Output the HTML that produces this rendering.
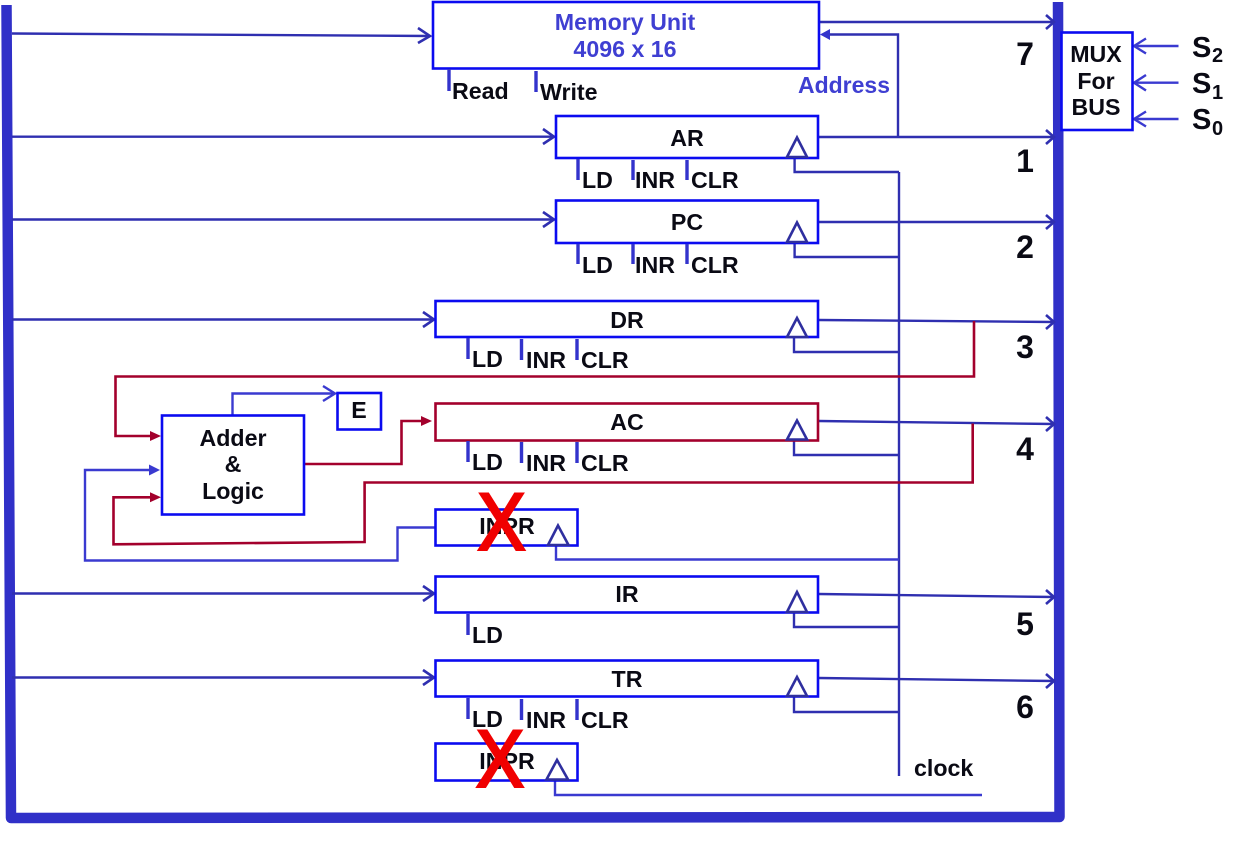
<!DOCTYPE html>
<html><head><meta charset="utf-8"><style>
html,body{margin:0;padding:0;background:#fff;width:1238px;height:854px;overflow:hidden}
svg{display:block}
text{font-family:"Liberation Sans",sans-serif;font-weight:bold;fill:#0a0a14}
.box{fill:#fff;stroke:#0b0bf0;stroke-width:2.6}
.l{fill:none;stroke:#2f2fb0;stroke-width:2.4}
.b{fill:none;stroke:#3a3ad0;stroke-width:2.4}
.r{fill:none;stroke:#a3002c;stroke-width:2.6}
.h{fill:none;stroke:#2f2fb0;stroke-width:2.6}
.t{fill:none;stroke:#3333cc;stroke-width:3.4}
.tri{fill:#fff;stroke:#2f2f9f;stroke-width:2.6}
.s{font-size:23.2px}
.c{text-anchor:middle}
.n{font-size:32px;text-anchor:middle}
.u{fill:#3f3fd2}
.x{font-weight:normal;fill:#f00000;stroke:#f00000;stroke-width:3;text-anchor:middle;font-size:81px}
</style></head><body>
<svg width="1238" height="854" viewBox="0 0 1238 854" xmlns="http://www.w3.org/2000/svg">
<!-- Bus -->
<path d="M6.5,5 L11,818 L1059.5,817 L1058,2" fill="none" stroke="#3030c8" stroke-width="10.5" stroke-linejoin="round"/>

<!-- clock and connectors -->
<path class="l" d="M899,172V776"/>
<path class="l" d="M794.6,158V172H899M794.6,243V257H899M794,337V352H899M794,440V455H899M794,612V627H899M794,697V712H899"/>
<path class="b" d="M556,546V559.5H899M555,780V795H982"/>

<!-- bus to registers -->
<path class="l" d="M12,33.5L430,36M12,136.7H554M12,219.5H554M12,319.5H434M12,593.5H434M12,677.5H434"/>
<path class="h" d="M418,28L430,36L418,43M543,129L554,136.7L543,144M543,212L554,219.5L543,227M423,312L434,319.5L423,327M423,586L434,593.5L423,601M423,670L434,677.5L423,685"/>

<!-- registers to bus -->
<path class="l" d="M819,22H1054M818,137H1054M818,222H1054M819,320L1054,322M819,421L1054,424M819,594L1054,597M819,678L1054,681"/>
<path class="h" d="M1046,15L1054,22L1046,29M1046,130L1054,137L1046,144M1046,215L1054,222L1046,229M1046,315L1054,322L1046,329M1046,417L1054,424L1046,431M1046,590L1054,597L1046,604M1046,674L1054,681L1046,688"/>

<!-- Address -->
<path class="l" d="M898,137V34.5H826"/>
<path d="M820,34.5L830,29V40Z" fill="#3333cc"/>

<!-- MUX inputs -->
<path class="b" d="M1178.5,46H1134M1178.5,82.7H1134M1178.5,119H1134"/>
<path class="b" d="M1146,38.5L1134,46L1146,53.5M1146,75L1134,82.7L1146,90.5M1146,111.5L1134,119L1146,126.5"/>

<!-- Blue adder connectors -->
<path class="b" d="M232.5,415V393.5H335"/>
<path class="b" d="M323,386L335,393.5L323,401"/>
<path class="b" d="M435,527.5H397.5V560.5H85V470H155"/>
<path d="M160,470L149,464.5V475.5Z" fill="#3a3ad0"/>

<!-- Red connectors -->
<path class="r" d="M974,321V376.5H115.5V436H155"/>
<path d="M161,436L150,431V441Z" fill="#a3002c"/>
<path class="r" d="M972.7,423.5V482.5H364.6V542L113.5,544.3V497.3H155"/>
<path d="M161,497.3L150,492.3V502.3Z" fill="#a3002c"/>
<path class="r" d="M302,464H401.5V421H425"/>
<path d="M432,421L421,416V426Z" fill="#a3002c"/>

<!-- Boxes -->
<rect class="box" x="433" y="2" width="386" height="66.5"/>
<rect class="box" x="556" y="116" width="262" height="42"/>
<rect class="box" x="556" y="200.5" width="262" height="42.5"/>
<rect class="box" x="435.5" y="301" width="382.5" height="36"/>
<rect x="435.5" y="403.5" width="382.5" height="37" fill="#fff" stroke="#a3002c" stroke-width="2.6"/>
<rect class="box" x="435.5" y="509.5" width="142" height="36"/>
<rect class="box" x="435.5" y="576.5" width="382.5" height="36"/>
<rect class="box" x="435.5" y="660.5" width="382.5" height="36"/>
<rect class="box" x="435.5" y="743.5" width="142" height="37"/>
<rect class="box" x="162" y="415.5" width="142" height="99"/>
<rect class="box" x="337.5" y="393" width="43.5" height="36.5"/>
<rect class="box" x="1061.5" y="32.5" width="71" height="97.5"/>

<!-- Triangles -->
<path class="tri" d="M797,137.500L787,157H807Z"/>
<path class="tri" d="M797,222.500L787,242H807Z"/>
<path class="tri" d="M797,318L787,337H807Z"/>
<path class="tri" d="M797,420.500L787,439.500H807Z"/>
<path class="tri" d="M558,525.500L548,545H568.500Z"/>
<path class="tri" d="M797,592L787,612H807Z"/>
<path class="tri" d="M797,677L787,696H807Z"/>
<path class="tri" d="M557,760L546.500,779.500H568Z"/>

<!-- Control ticks -->
<path class="t" d="M449,69V91M536,71V92
M578,159V180M633,160V180M687,160V180
M578,244V264M633,244V264M687,244V264
M468,338V359M521.500,339V360M577,339V360
M468,441V462M521.500,442V463M577,442V463
M468,614V635
M468,698V719M521.500,699V720M577,699V720"/>

<!-- Text -->
<text class="c u s" x="625" y="30">Memory Unit</text>
<text class="c u s" x="625" y="57">4096 x 16</text>
<text class="s" x="452" y="99">Read</text>
<text class="s" x="540" y="100">Write</text>
<text class="u s" x="798" y="93" textLength="92" lengthAdjust="spacingAndGlyphs">Address</text>

<text class="c s" x="687" y="146">AR</text>
<text class="c s" x="687" y="230">PC</text>
<text class="c s" x="627" y="328">DR</text>
<text class="c s" x="627" y="430">AC</text>
<text class="c s" x="507" y="534">INPR</text>
<text class="c s" x="627" y="602">IR</text>
<text class="c s" x="627" y="687">TR</text>
<text class="c s" x="507" y="769">INPR</text>

<text class="s" x="582" y="188">LD</text><text class="s" x="635" y="188">INR</text><text class="s" x="691" y="188">CLR</text>
<text class="s" x="582" y="273">LD</text><text class="s" x="635" y="273">INR</text><text class="s" x="691" y="273">CLR</text>
<text class="s" x="472" y="367">LD</text><text class="s" x="526" y="368">INR</text><text class="s" x="581" y="368">CLR</text>
<text class="s" x="472" y="470">LD</text><text class="s" x="526" y="471">INR</text><text class="s" x="581" y="471">CLR</text>
<text class="s" x="472" y="643">LD</text>
<text class="s" x="472" y="727">LD</text><text class="s" x="526" y="728">INR</text><text class="s" x="581" y="728">CLR</text>

<text class="c s" x="233" y="446">Adder</text>
<text class="c s" x="233" y="472">&amp;</text>
<text class="c s" x="233" y="499">Logic</text>
<text class="c s" x="359" y="418">E</text>
<text class="s" x="914" y="776">clock</text>

<text class="c s" x="1096" y="62">MUX</text>
<text class="c s" x="1096" y="89">For</text>
<text class="c s" x="1096" y="115">BUS</text>

<text class="n" x="1025" y="65">7</text>
<text class="n" x="1025" y="172">1</text>
<text class="n" x="1025" y="258">2</text>
<text class="n" x="1025" y="358">3</text>
<text class="n" x="1025" y="460">4</text>
<text class="n" x="1025" y="635">5</text>
<text class="n" x="1025" y="718">6</text>

<text x="1192" y="57" font-size="29">S</text><text x="1212" y="62" font-size="20">2</text>
<text x="1192" y="93" font-size="29">S</text><text x="1212" y="99" font-size="20">1</text>
<text x="1192" y="129" font-size="29">S</text><text x="1212" y="135" font-size="20">0</text>

<text class="x" transform="translate(501.5,549.5) scale(.88,1)">X</text>
<text class="x" transform="translate(500,786.5) scale(.88,1)">X</text>
</svg>
</body></html>
